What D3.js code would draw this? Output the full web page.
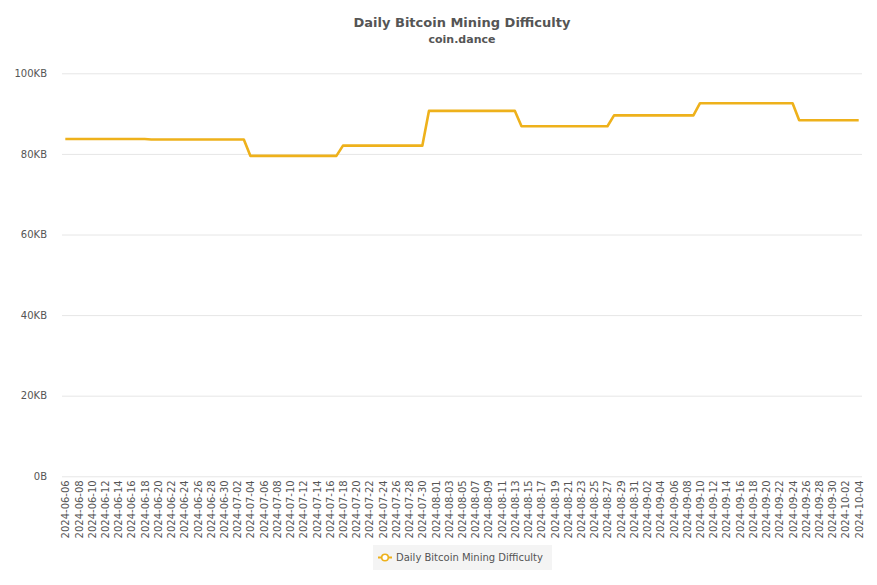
<!DOCTYPE html>
<html>
<head>
<meta charset="utf-8">
<script src="https://cdn.jsdelivr.net/npm/d3@7"></script>
<style>
  html, body { margin: 0; padding: 0; background: #fff; }
  svg { display: block; font-family: "DejaVu Sans", Verdana, sans-serif; }
</style>
</head>
<body>
<svg id="chart" width="877" height="585"></svg>
<script>
const title = "Daily Bitcoin Mining Difficulty";
const subtitle = "coin.dance";
const seriesName = "Daily Bitcoin Mining Difficulty";

const dates = [
  "2024-06-06","2024-06-07","2024-06-08","2024-06-09","2024-06-10","2024-06-11","2024-06-12","2024-06-13","2024-06-14","2024-06-15",
  "2024-06-16","2024-06-17","2024-06-18","2024-06-19","2024-06-20","2024-06-21","2024-06-22","2024-06-23","2024-06-24","2024-06-25",
  "2024-06-26","2024-06-27","2024-06-28","2024-06-29","2024-06-30","2024-07-01","2024-07-02","2024-07-03","2024-07-04","2024-07-05",
  "2024-07-06","2024-07-07","2024-07-08","2024-07-09","2024-07-10","2024-07-11","2024-07-12","2024-07-13","2024-07-14","2024-07-15",
  "2024-07-16","2024-07-17","2024-07-18","2024-07-19","2024-07-20","2024-07-21","2024-07-22","2024-07-23","2024-07-24","2024-07-25",
  "2024-07-26","2024-07-27","2024-07-28","2024-07-29","2024-07-30","2024-07-31","2024-08-01","2024-08-02","2024-08-03","2024-08-04",
  "2024-08-05","2024-08-06","2024-08-07","2024-08-08","2024-08-09","2024-08-10","2024-08-11","2024-08-12","2024-08-13","2024-08-14",
  "2024-08-15","2024-08-16","2024-08-17","2024-08-18","2024-08-19","2024-08-20","2024-08-21","2024-08-22","2024-08-23","2024-08-24",
  "2024-08-25","2024-08-26","2024-08-27","2024-08-28","2024-08-29","2024-08-30","2024-08-31","2024-09-01","2024-09-02","2024-09-03",
  "2024-09-04","2024-09-05","2024-09-06","2024-09-07","2024-09-08","2024-09-09","2024-09-10","2024-09-11","2024-09-12","2024-09-13",
  "2024-09-14","2024-09-15","2024-09-16","2024-09-17","2024-09-18","2024-09-19","2024-09-20","2024-09-21","2024-09-22","2024-09-23",
  "2024-09-24","2024-09-25","2024-09-26","2024-09-27","2024-09-28","2024-09-29","2024-09-30","2024-10-01","2024-10-02","2024-10-03",
  "2024-10-04"
];

// difficulty, in the chart's "KB" units
const difficulty = [
  83.68,83.68,83.68,83.68,83.68,83.68,83.68,83.68,83.68,83.68,
  83.68,83.68,83.68,83.58,83.58,83.58,83.58,83.58,83.58,83.58,
  83.58,83.58,83.58,83.58,83.58,83.58,83.58,83.58,79.50,79.50,
  79.50,79.50,79.50,79.50,79.50,79.50,79.50,79.50,79.50,79.50,
  79.50,79.50,82.05,82.05,82.05,82.05,82.05,82.05,82.05,82.05,
  82.05,82.05,82.05,82.05,82.05,90.67,90.67,90.67,90.67,90.67,
  90.67,90.67,90.67,90.67,90.67,90.67,90.67,90.67,90.67,86.87,
  86.87,86.87,86.87,86.87,86.87,86.87,86.87,86.87,86.87,86.87,
  86.87,86.87,86.87,89.55,89.55,89.55,89.55,89.55,89.55,89.55,
  89.55,89.55,89.55,89.55,89.55,89.55,92.58,92.58,92.58,92.58,
  92.58,92.58,92.58,92.58,92.58,92.58,92.58,92.58,92.58,92.58,
  92.58,88.35,88.35,88.35,88.35,88.35,88.35,88.35,88.35,88.35,
  88.35
];

const yTicks = [0, 20, 40, 60, 80, 100];
const yTickLabels = ["0B", "20KB", "40KB", "60KB", "80KB", "100KB"];

const svg = d3.select("#chart");
const margin = { left: 62, right: 15, top: 73.3, bottom: 108.7 };
const W = 877, H = 585;

const x = d3.scalePoint().domain(dates).range([margin.left, W - margin.right]).padding(0.5);
const y = d3.scaleLinear().domain([0, 100]).range([H - margin.bottom, margin.top]);

// Title
svg.append("text").attr("x", 462).attr("y", 27).attr("text-anchor", "middle")
  .attr("font-size", 13).attr("font-weight", "bold").attr("fill", "#555").text(title);
svg.append("text").attr("x", 462).attr("y", 43).attr("text-anchor", "middle")
  .attr("font-size", 11).attr("font-weight", "bold").attr("fill", "#555").text(subtitle);

// Y grid + labels
const yAxis = d3.axisLeft(y).tickValues(yTicks)
  .tickFormat((d, i) => yTickLabels[i])
  .tickSize(-(W - margin.right - margin.left)).tickPadding(15);
const gy = svg.append("g").attr("transform", `translate(${margin.left},0)`).call(yAxis);
gy.select(".domain").remove();
gy.selectAll(".tick line").attr("stroke", "#e6e6e6").attr("stroke-width", 1);
gy.selectAll(".tick text").attr("fill", "#555").attr("font-size", 10)
  .attr("font-family", "DejaVu Sans, sans-serif");

// X axis labels (every other date)
const xAxis = d3.axisBottom(x).tickValues(dates.filter((d, i) => i % 2 === 0)).tickSize(0);
const gx = svg.append("g").attr("transform", `translate(0,${H - margin.bottom})`).call(xAxis);
gx.select(".domain").remove();
gx.selectAll(".tick text")
  .attr("fill", "#555").attr("font-size", 10).attr("font-family", "DejaVu Sans, sans-serif")
  .attr("text-anchor", "end")
  .attr("transform", "rotate(-90)")
  .attr("x", -4).attr("y", 0).attr("dy", "0.35em");

// Line
const line = d3.line().x((d, i) => x(dates[i])).y(d => y(d));
svg.append("path").datum(difficulty)
  .attr("fill", "none").attr("stroke", "#eeb11b").attr("stroke-width", 2.6)
  .attr("stroke-linejoin", "round").attr("d", line);

// Legend
const lg = svg.append("g").attr("transform", "translate(373,545)");
lg.append("rect").attr("width", 179).attr("height", 25).attr("fill", "#f4f4f4");
lg.append("line").attr("x1", 5).attr("x2", 19).attr("y1", 12.5).attr("y2", 12.5)
  .attr("stroke", "#eeb11b").attr("stroke-width", 2);
lg.append("circle").attr("cx", 12).attr("cy", 12.5).attr("r", 3.3)
  .attr("fill", "#fff").attr("stroke", "#eeb11b").attr("stroke-width", 1.6);
lg.append("text").attr("x", 23).attr("y", 16.2).attr("font-size", 10)
  .attr("fill", "#555").text(seriesName);
</script>
</body>
</html>
